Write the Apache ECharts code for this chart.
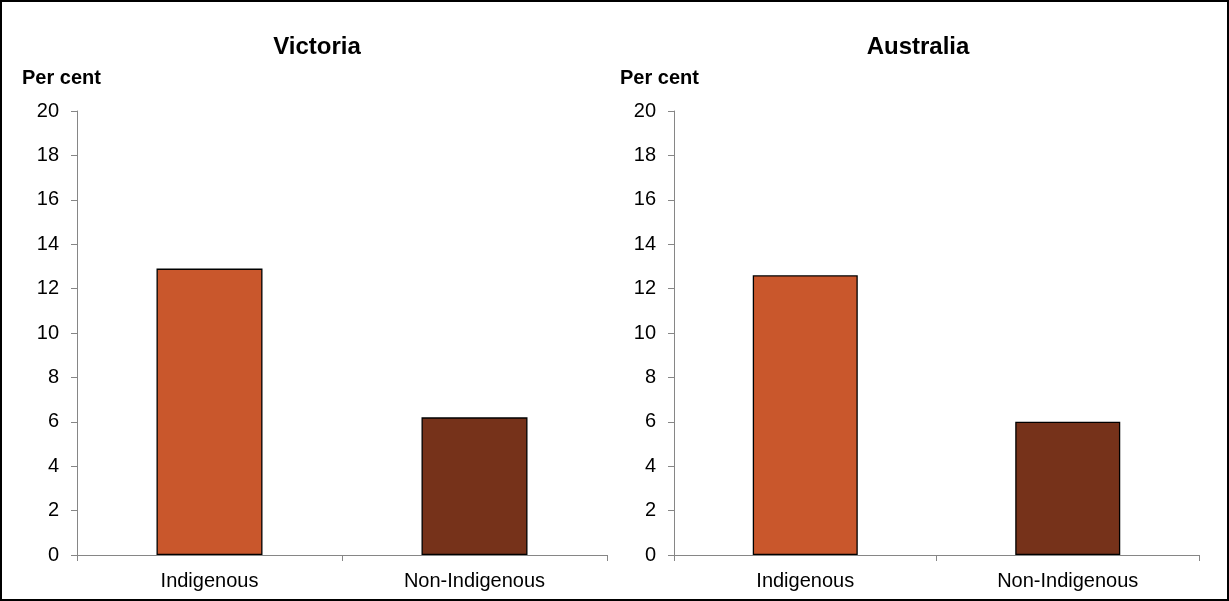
<!DOCTYPE html>
<html><head><meta charset="utf-8">
<script src="https://cdn.jsdelivr.net/npm/echarts@6/dist/echarts.min.js"></script>
<style>html,body{margin:0;padding:0;background:#fff}#c{width:1229px;height:601px;box-sizing:border-box;border:2px solid #000}</style>
</head><body><div id="c"></div>
<script>
const categories = ['Indigenous', 'Non-Indigenous'];
const panelTitles = ['Victoria', 'Australia'];
const victoriaValues = [12.9, 6.2];
const australiaValues = [12.6, 6.0];
const barColors = ['#C9572C', '#76321A'];
const yTicks = {min: 0, max: 20, interval: 2};

const chart = echarts.init(document.getElementById('c'));
const font = 'Liberation Sans, Arial, sans-serif';
const grids = [
  {left: 75, width: 530, top: 109, height: 444},
  {left: 672, width: 525, top: 109, height: 444}
];
const titleCenters = [310, 911];
function xAxis(i){return {type:'category', gridIndex:i, data:categories,
  axisLine:{lineStyle:{color:'#868686', width:1}},
  axisTick:{show:true, alignWithLabel:false, length:6, lineStyle:{color:'#868686'}},
  axisLabel:{color:'#000', fontSize:20, fontFamily:font, margin:16}};}
function yAxis(i){return {type:'value', gridIndex:i, min:yTicks.min, max:yTicks.max, interval:yTicks.interval,
  name:'Per cent', nameLocation:'end', nameGap:23,
  nameTextStyle:{fontWeight:'bold', fontSize:20, fontFamily:font, color:'#000', align:'left', padding:[0,0,0,i===0?-55:-54]},
  axisLine:{show:true, lineStyle:{color:'#868686'}},
  axisTick:{show:true, length:6, lineStyle:{color:'#868686'}},
  splitLine:{show:false},
  axisLabel:{color:'#000', fontSize:20, fontFamily:font, margin:18}};}
function series(i, vals){return {type:'bar', xAxisIndex:i, yAxisIndex:i, barWidth:'40%',
  data: vals.map((v,k)=>({value:v, itemStyle:{color:barColors[k]}})),
  itemStyle:{borderColor:'#000', borderWidth:1.3}};}
chart.setOption({
  animation:false,
  title: panelTitles.map((t,i)=>({text:t, left: titleCenters[i], top: 28, textAlign:'center',
    textStyle:{fontSize:24, fontWeight:'bold', fontFamily:font, color:'#000'}})),
  grid: grids,
  xAxis: [xAxis(0), xAxis(1)],
  yAxis: [yAxis(0), yAxis(1)],
  series: [series(0, victoriaValues), series(1, australiaValues)]
});
</script></body></html>
